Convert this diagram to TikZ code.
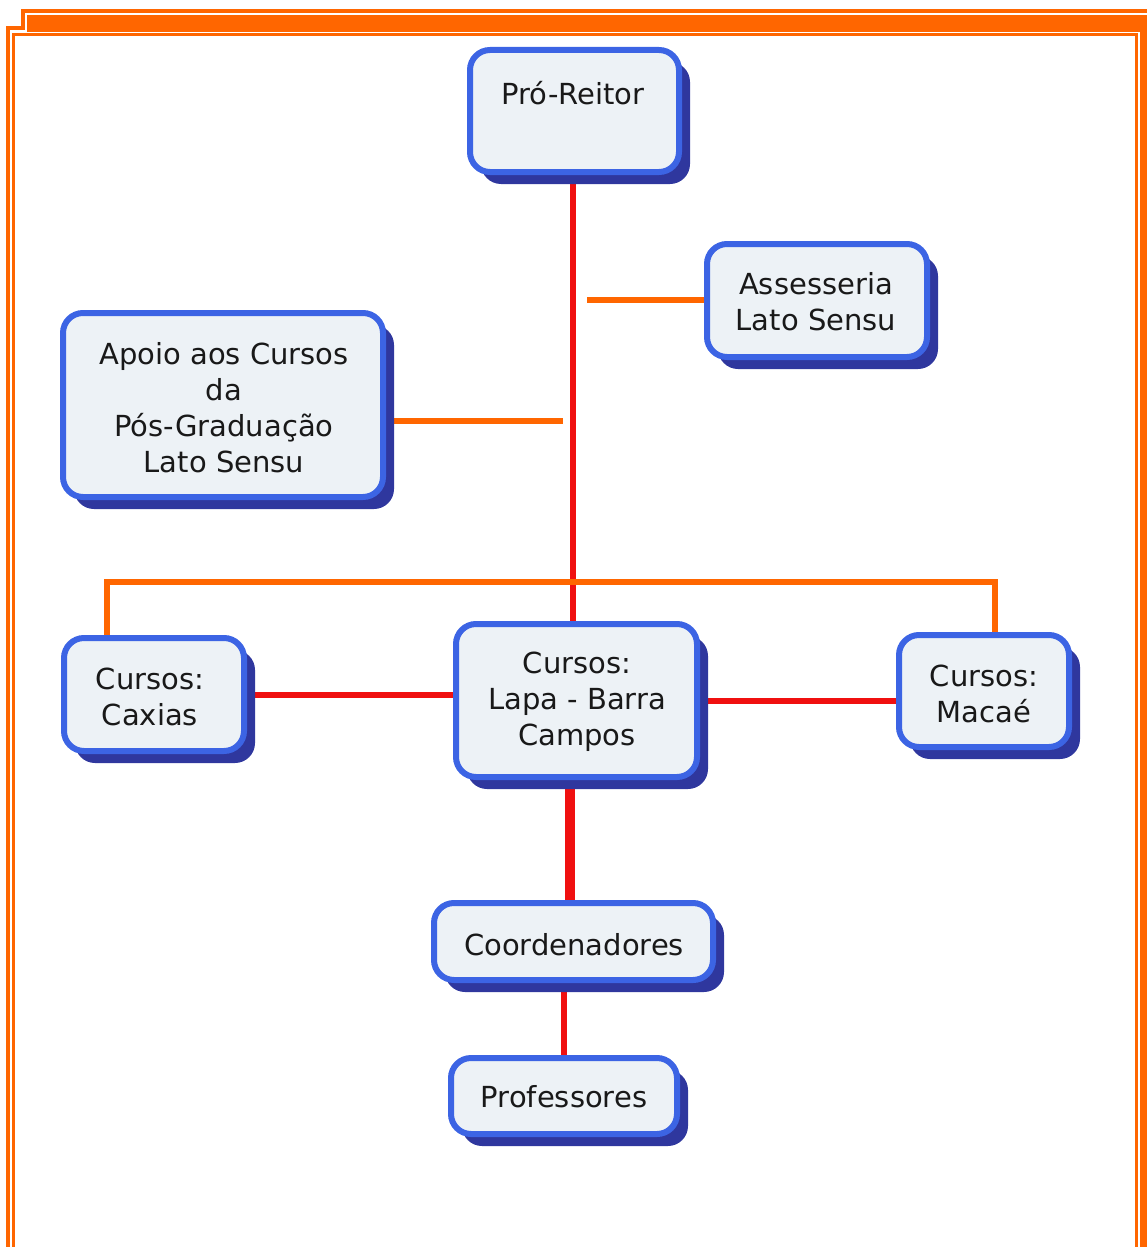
\documentclass[tikz,border=0pt]{standalone}
\usepackage{fontspec}
\setmainfont{DejaVu Sans}
\usetikzlibrary{shadows,backgrounds}
\definecolor{bfill}{HTML}{EDF2F6}
\definecolor{bedge}{HTML}{3C64E4}
\definecolor{bshad}{HTML}{2F379E}
\definecolor{lred}{HTML}{F01010}
\definecolor{lorange}{HTML}{FF6600}
\tikzset{
  box/.style={draw=bedge, line width=6pt, fill=bfill, rounded corners=20pt, inner sep=0pt,
    drop shadow={shadow xshift=11pt, shadow yshift=-12pt, fill=bshad, opacity=1}},
  lbl/.style={align=center, font=\fontsize{29}{36}\selectfont, text=black!90},
  redline/.style={draw=lred, line width=6pt},
  orline/.style={draw=lorange, line width=6pt},
  frameline/.style={draw=lorange, line width=3.5pt}
}
\begin{document}
\begin{tikzpicture}[x=1pt,y=-1pt]
\useasboundingbox (0,0) rectangle (1147,1247);
% page frame
\draw[frameline] (8,1247) -- (8,28) -- (23,28) -- (23,11) -- (1147,11);
\fill[lorange] (27,15) rectangle (1147,32);
\fill[lorange] (1140,32) rectangle (1147,1247);
\draw[frameline] (13.5,1247) -- (13.5,34.5) -- (1136.5,34.5) -- (1136.5,1247);
% boxes
\node[box, minimum width=209pt, minimum height=122pt] (pr) at (574.5,111) {};
\node[box, minimum width=220pt, minimum height=113pt] (as) at (817,300.5) {};
\node[box, minimum width=320pt, minimum height=184pt] (ap) at (223,405) {};
\node[box, minimum width=180pt, minimum height=113pt] (cx) at (154,694.5) {};
\node[box, minimum width=241pt, minimum height=153pt] (lp) at (576.5,700.5) {};
\node[box, minimum width=170pt, minimum height=112pt] (mc) at (984,691) {};
\node[box, minimum width=279pt, minimum height=77pt] (co) at (573.5,941.5) {};
\node[box, minimum width=226pt, minimum height=76pt] (pf) at (564,1096) {};
% labels
\node[lbl] (tpr) at (573,93) {Pró-Reitor};
\node[lbl] (tas) at (816,302) {Assesseria\\Lato Sensu};
\node[lbl] (tap) at (224,408) {Apoio aos Cursos\\da\\Pós-Graduação\\Lato Sensu};
\node[lbl] (tcx) at (150,697) {Cursos:\\Caxias};
\node[lbl] (tlp) at (577,702) {Cursos:\\Lapa - Barra\\Campos};
\node[lbl] (tmc) at (984,694) {Cursos:\\Macaé};
\node[lbl] (tco) at (574,945) {Coordenadores};
\node[lbl] (tpf) at (564,1097) {Professores};
% connectors
\coordinate (asj) at (587,300);
\coordinate (apj) at (563,421);
\coordinate (bl) at (107,582);
\coordinate (br) at (995,582);
\coordinate (vx) at (573,0);
\coordinate (vc) at (570,0);
\begin{scope}[on background layer]
\draw[redline] (vx |- pr.south) -- (vx |- lp.north);
\draw[orline] (asj) -- (asj -| as.west);
\draw[orline] (apj -| ap.east) -- (apj);
\draw[orline, line cap=rect] (bl |- cx.north) -- (bl) -- (br) -- (br |- mc.north);
\draw[redline] (cx) -- (cx -| lp.west);
\draw[redline] (lp) -- (lp -| mc.west);
\draw[draw=lred, line width=10pt] (vc |- lp.south) -- (vc |- co.north);
\draw[redline] (pf.north) -- (pf.north |- co.south);
\end{scope}
\end{tikzpicture}
\end{document}
